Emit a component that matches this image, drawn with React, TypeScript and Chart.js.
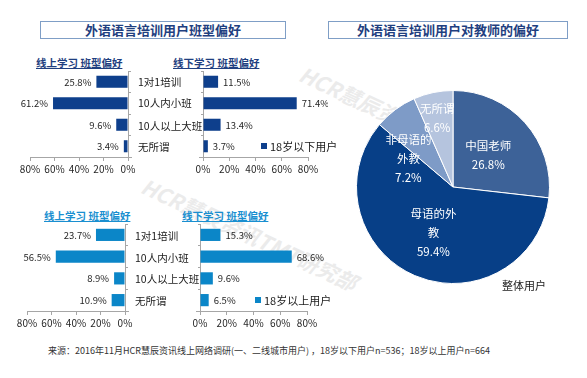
import React, { useEffect, useRef } from "react";
import { Chart, registerables } from "chart.js";

Chart.register(...registerables);

// ---------- data ----------
const classTypes = ["1对1培训", "10人内小班", "10人以上大班", "无所谓"];
const under18Online = [25.8, 61.2, 9.6, 3.4];
const under18Offline = [11.5, 71.4, 13.4, 3.7];
const over18Online = [23.7, 56.5, 8.9, 10.9];
const over18Offline = [15.3, 68.6, 9.6, 6.5];
const xTickValues = [0, 20, 40, 60, 80];

const teacherTypes = ["中国老师", "母语的外教", "非母语的外教", "无所谓"];
const teacherShares = [26.8, 59.4, 7.2, 6.6];
const teacherLabelLines = [["中国老师"], ["母语的外", "教"], ["非母语的", "外教"], ["无所谓"]];

const leftTitle = "外语语言培训用户班型偏好";
const rightTitle = "外语语言培训用户对教师的偏好";
const onlineTitle = "线上学习 班型偏好";
const offlineTitle = "线下学习 班型偏好";
const under18Name = "18岁以下用户";
const over18Name = "18岁以上用户";
const pieName = "整体用户";
const footnote = "来源：2016年11月HCR慧辰资讯线上网络调研(一、二线城市用户) ，18岁以下用户n=536；18岁以上用户n=664";
const watermark = "HCR慧辰资讯TMT研究部";

// ---------- styles ----------
const FONT = '"Noto Sans CJK SC", "Noto Sans", sans-serif';
const NAVY = "#0e3f8c";
const SKY = "#0b86c8";
const AXIS = "#a6a6a6";
const PIE_COLORS = ["#3d6298", "#073f87", "#7e9bc7", "#b5c4de"];
const PIE_LABEL_LAYOUT = [
  { r: 0.49, shift: 0 },
  { r: 0.51, shift: 0 },
  { r: 0.55, shift: -20.5 },
  { r: 0.735, shift: -1 },
];

const valueLabelPlugin = {
  id: "valueLabels",
  afterDatasetsDraw(chart: any) {
    const ctx = chart.ctx;
    const meta = chart.getDatasetMeta(0);
    const values = chart.data.datasets[0].data as number[];
    const reversed = chart.options.scales.x.reverse;
    ctx.save();
    ctx.font = `9.5px ${FONT}`;
    ctx.fillStyle = "#262626";
    ctx.textBaseline = "middle";
    meta.data.forEach((bar: any, i: number) => {
      const { x, y } = bar.getProps(["x", "y"], true);
      const txt = values[i].toFixed(1) + "%";
      if (reversed) {
        ctx.textAlign = "right";
        ctx.fillText(txt, x - 5, y + 0.5);
      } else {
        ctx.textAlign = "left";
        ctx.fillText(txt, x + 5, y + 0.5);
      }
    });
    ctx.restore();
  },
};

const pieLabelPlugin = {
  id: "pieLabels",
  afterDatasetsDraw(chart: any) {
    const ctx = chart.ctx;
    const meta = chart.getDatasetMeta(0);
    ctx.save();
    ctx.font = `11.5px ${FONT}`;
    ctx.fillStyle = "#ffffff";
    ctx.textAlign = "center";
    ctx.textBaseline = "middle";
    const lh = 19;
    meta.data.forEach((arc: any, i: number) => {
      const p = arc.getProps(["x", "y", "startAngle", "endAngle", "outerRadius"], true);
      const lay = PIE_LABEL_LAYOUT[i];
      const a = (p.startAngle + p.endAngle) / 2 + (lay.shift * Math.PI) / 180;
      const cx = p.x + Math.cos(a) * p.outerRadius * lay.r;
      const cy = p.y + Math.sin(a) * p.outerRadius * lay.r;
      const lines = [...teacherLabelLines[i], teacherShares[i].toFixed(1) + "%"];
      const y0 = cy - ((lines.length - 1) * lh) / 2;
      lines.forEach((ln, k) => ctx.fillText(ln, cx, y0 + k * lh));
    });
    ctx.restore();
  },
};

type PanelProps = {
  values: number[];
  color: string;
  mirrored: boolean;
  left: number;
  top: number;
  width: number;
  height: number;
};

function BarPanel({ values, color, mirrored, left, top, width, height }: PanelProps) {
  const ref = useRef<HTMLCanvasElement>(null);
  useEffect(() => {
    const chart = new Chart(ref.current as HTMLCanvasElement, {
      type: "bar",
      data: {
        labels: classTypes,
        datasets: [
          {
            data: values,
            backgroundColor: color,
            barPercentage: 0.56,
            categoryPercentage: 1,
          },
        ],
      },
      options: {
        indexAxis: "y",
        animation: false,
        responsive: false,
        devicePixelRatio: 1,
        layout: {
          padding: mirrored
            ? { left: 16, right: 0, top: 0, bottom: 0 }
            : { left: 0, right: 20, top: 0, bottom: 0 },
        },
        plugins: { legend: { display: false }, tooltip: { enabled: false } },
        scales: {
          x: {
            reverse: mirrored,
            min: 0,
            max: 80,
            afterBuildTicks: (s: any) => {
              s.ticks = xTickValues.map((v) => ({ value: v }));
            },
            afterFit: (s: any) => {
              s.height = 24;
            },
            ticks: {
              callback: (v: any) => v + "%",
              font: { family: FONT, size: 10 },
              color: "#262626",
              padding: 2,
              maxRotation: 0,
            },
            grid: { drawOnChartArea: false, drawTicks: true, tickLength: 4, color: AXIS },
            border: { color: AXIS },
          },
          y: {
            position: mirrored ? "right" : "left",
            ticks: { display: false },
            afterFit: (s: any) => {
              s.width = 10;
            },
            grid: { drawOnChartArea: false, drawTicks: true, tickLength: 4, offset: true, color: AXIS },
            border: { color: AXIS },
          },
        },
      } as any,
      plugins: [valueLabelPlugin],
    });
    return () => chart.destroy();
  }, []);
  return (
    <canvas
      ref={ref}
      width={width}
      height={height}
      style={{ position: "absolute", left, top, width, height }}
    />
  );
}

function PiePanel() {
  const ref = useRef<HTMLCanvasElement>(null);
  useEffect(() => {
    const chart = new Chart(ref.current as HTMLCanvasElement, {
      type: "pie",
      data: {
        labels: teacherTypes,
        datasets: [
          {
            data: teacherShares,
            backgroundColor: PIE_COLORS,
            borderColor: "#ffffff",
            borderWidth: 1,
          },
        ],
      },
      options: {
        animation: false,
        responsive: false,
        devicePixelRatio: 1,
        layout: { padding: 3 },
        plugins: { legend: { display: false }, tooltip: { enabled: false } },
      } as any,
      plugins: [pieLabelPlugin],
    });
    return () => chart.destroy();
  }, []);
  return (
    <canvas
      ref={ref}
      width={200}
      height={200}
      style={{ position: "absolute", left: 353, top: 87, width: 200, height: 200 }}
    />
  );
}

function Txt({
  x,
  cy,
  children,
  size,
  color = "#262626",
  bold = false,
  underline = false,
  align = "left",
  bg,
}: any) {
  const lh = Math.round(size * 1.4);
  const style: React.CSSProperties = {
    position: "absolute",
    top: cy - lh / 2,
    fontSize: size,
    lineHeight: lh + "px",
    color,
    fontWeight: bold ? 700 : 400,
    textDecoration: underline ? "underline" : "none",
    whiteSpace: "nowrap",
    fontFamily: FONT,
    background: bg,
  };
  style.left = x;
  if (align === "center") {
    style.transform = "translateX(-50%)";
  }
  return <div style={style}>{children}</div>;
}

function TitleBox({ left, width, text }: { left: number; width: number; text: string }) {
  return (
    <div
      style={{
        position: "absolute",
        left,
        top: 21,
        width,
        height: 18,
        boxSizing: "border-box",
        border: "1px solid #7f9ec6",
        background: "#fff",
        fontFamily: FONT,
        fontWeight: 700,
        fontSize: 13,
        lineHeight: "16px",
        color: "#1f3f80",
        textAlign: "center",
        whiteSpace: "nowrap",
      }}
    >
      {text}
    </div>
  );
}

function CategoryColumn({ left, rows }: { left: number; rows: number[] }) {
  return (
    <>
      {classTypes.map((c, i) => (
        <Txt key={c} x={left} cy={rows[i]} size={10.5} color="#1a1a1a">
          {c}
        </Txt>
      ))}
    </>
  );
}

function Legend({ x, cy, color, text }: any) {
  return (
    <>
      <div
        style={{
          position: "absolute",
          left: x,
          top: cy - 3,
          width: 6,
          height: 6,
          background: color,
        }}
      />
      <Txt x={x + 9} cy={cy} size={11} color="#1a1a1a">
        {text}
      </Txt>
    </>
  );
}

function Watermark({ x, y, text }: any) {
  return (
    <div
      style={{
        position: "absolute",
        left: x,
        top: y,
        fontFamily: FONT,
        fontSize: 21,
        fontWeight: 700,
        fontStyle: "italic",
        color: "#ebebeb",
        whiteSpace: "nowrap",
        transform: "rotate(25deg)",
        transformOrigin: "0 50%",
        lineHeight: "26px",
      }}
    >
      {text}
    </div>
  );
}

export default function App() {
  const topRows = [81.5, 102.5, 125, 146.5];
  const botRows = [235, 257, 278, 300];
  return (
    <div
      style={{
        position: "absolute",
        left: 0,
        top: 0,
        width: 587,
        height: 378,
        background: "#ffffff",
        overflow: "hidden",
        fontFamily: FONT,
      }}
    >
      <Watermark x={301} y={59} text={watermark} />
      <Watermark x={143} y={171} text={watermark} />

      <TitleBox left={40} width={246} text={leftTitle} />
      <TitleBox left={328} width={240} text={rightTitle} />

      <Txt x={36} cy={62} size={10.5} bold underline color="#1f3f80">
        {onlineTitle}
      </Txt>
      <Txt x={173} cy={62} size={10.5} bold underline color="#1f3f80">
        {offlineTitle}
      </Txt>
      <Txt x={44} cy={215} size={10.5} bold underline color="#1a8fd0">
        {onlineTitle}
      </Txt>
      <Txt x={182} cy={215} size={10.5} bold underline color="#1a8fd0">
        {offlineTitle}
      </Txt>

      <BarPanel values={under18Online} color={NAVY} mirrored left={14} top={71} width={124} height={110} />
      <BarPanel values={under18Offline} color={NAVY} mirrored={false} left={193} top={71} width={135} height={110} />
      <BarPanel values={over18Online} color={SKY} mirrored left={11} top={224} width={124} height={111} />
      <BarPanel values={over18Offline} color={SKY} mirrored={false} left={190} top={224} width={137} height={111} />

      <div style={{ position: "absolute", left: 131, top: 70, width: 70, height: 86, background: "#fff" }} />
      <div style={{ position: "absolute", left: 128, top: 224, width: 70, height: 86, background: "#fff" }} />
      <CategoryColumn left={138} rows={topRows} />
      <CategoryColumn left={135} rows={botRows} />

      <Legend x={261} cy={146} color={NAVY} text={under18Name} />
      <Legend x={255} cy={300} color={SKY} text={over18Name} />

      <PiePanel />
      <Txt x={524} cy={285} size={11} color="#1a1a1a" align="center">
        {pieName}
      </Txt>

      <Txt x={48} cy={350} size={9} color="#333333">
        {footnote}
      </Txt>
    </div>
  );
}
